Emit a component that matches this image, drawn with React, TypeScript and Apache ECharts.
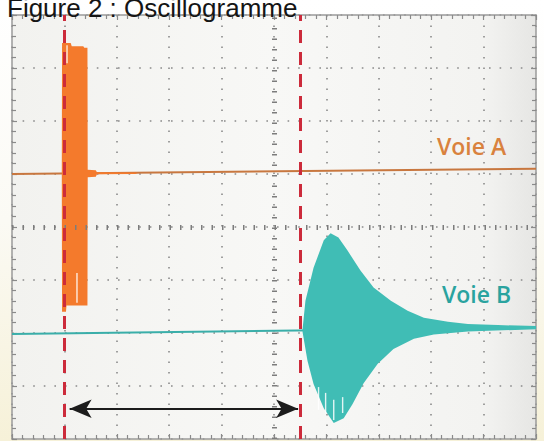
import React, { useEffect, useRef } from "react";
import * as echarts from "echarts";

// Screen: 10 horizontal divisions, 8 vertical divisions
const xRange = [0, 10];
const yRange = [-4, 4];

// Cursor (red dashed) positions, in divisions
const cursorTimes = [1.0, 5.5];
// Double arrow between the two cursors
const arrowStart = [1.1, -3.43];
const arrowEnd = [5.46, -3.43];

// Channel baselines (slightly tilted in the photo)
const baselineA = [[0, 1.0], [10, 1.1]];
const baselineB = [[0, -2.02], [10, -1.9]];

// Voie A burst envelope (emitter)
const burstAUpper = [
  [0.95, 1.0], [0.955, 3.47], [1.12, 3.47], [1.14, 3.41], [1.36, 3.41],
  [1.38, 3.38], [1.44, 3.38], [1.445, 1.08], [1.6, 1.07], [1.62, 1.035],
  [2.35, 1.03], [2.4, 1.02],
];
const burstALower = [
  [0.95, 1.0], [0.955, -1.6], [1.03, -1.6], [1.04, -1.48], [1.44, -1.48],
  [1.445, 0.94], [1.6, 0.95], [1.62, 0.995], [2.35, 1.0], [2.4, 1.02],
];
// light streaks visible inside the Voie A burst: [x, yFrom, yTo]
const streaksA = [
  [1.05, 3.43, 3.09],
  [1.24, -0.87, -1.43],
];

// Voie B burst envelope (receiver)
const burstBUpper = [
  [5.545, -1.93], [5.6, -1.39], [5.755, -0.77], [5.95, -0.25], [6.08, -0.12],
  [6.23, -0.2], [6.4, -0.44], [6.65, -0.82], [6.9, -1.14], [7.23, -1.39],
  [7.55, -1.58], [7.86, -1.71], [8.32, -1.79], [8.7, -1.83], [9.27, -1.85],
  [10, -1.87],
];
const burstBLower = [
  [5.545, -1.98], [5.64, -2.53], [5.755, -2.96], [5.95, -3.42], [6.14, -3.7],
  [6.33, -3.61], [6.5, -3.34], [6.71, -2.95], [6.98, -2.58], [7.28, -2.3],
  [7.67, -2.11], [8.05, -2.03], [8.7, -1.97], [10, -1.93],
];
// light streaks visible inside the Voie B burst: [x, yFrom, yTo]
const streaksB = [
  [5.85, -3.02, -3.45],
  [5.985, -3.13, -3.51],
  [6.14, -3.26, -3.64],
  [6.31, -3.21, -3.51],
];

const titleText = "Figure 2 : Oscillogramme";
const labelA = "Voie A";
const labelB = "Voie B";

function envelopeSeries(upper: number[][], lower: number[][], color: string, z: number) {
  return {
    type: "custom",
    coordinateSystem: "cartesian2d",
    silent: true,
    z,
    data: [upper[0]],
    renderItem: (_params: any, api: any) => {
      const pts = upper
        .map((p) => api.coord(p))
        .concat(lower.slice().reverse().map((p) => api.coord(p)));
      return {
        type: "polygon",
        shape: { points: pts },
        style: { fill: color },
      };
    },
  };
}

function streakSeries(streaks: number[][], z: number) {
  return {
    type: "custom",
    coordinateSystem: "cartesian2d",
    silent: true,
    z,
    data: streaks,
    renderItem: (params: any, api: any) => {
      const s = streaks[params.dataIndex];
      const a = api.coord([s[0], s[1]]);
      const b = api.coord([s[0], s[2]]);
      return {
        type: "line",
        shape: { x1: a[0], y1: a[1], x2: b[0], y2: b[1] },
        style: { stroke: "rgba(255,255,255,0.85)", lineWidth: 1.4 },
      };
    },
  };
}

const borderAxis = (position: string, withSplit: boolean) => ({
  type: "value",
  position,
  min: xRange[0],
  max: xRange[1],
  interval: 1,
  axisLine: { show: true, onZero: false, lineStyle: { color: "#9a9a9a", width: 1.5 } },
  axisTick: { show: true, inside: true, length: 5, lineStyle: { color: "#8a8a8a", width: 1.2 } },
  minorTick: { show: true, splitNumber: 5, length: 4, lineStyle: { color: "#8a8a8a", width: 1.2 } },
  axisLabel: { show: false },
  splitLine: withSplit
    ? { show: true, lineStyle: { color: "#8a8a8a", width: 1.6, type: [1.6, 8.9] } }
    : { show: false },
});

const borderYAxis = (position: string, withSplit: boolean) => ({
  type: "value",
  position,
  min: yRange[0],
  max: yRange[1],
  interval: 1,
  axisLine: { show: true, onZero: false, lineStyle: { color: "#9a9a9a", width: 1.5 } },
  axisTick: { show: true, inside: true, length: 5, lineStyle: { color: "#8a8a8a", width: 1.2 } },
  minorTick: { show: true, splitNumber: 5, length: 4, lineStyle: { color: "#8a8a8a", width: 1.2 } },
  axisLabel: { show: false },
  splitLine: withSplit
    ? { show: true, lineStyle: { color: "#8a8a8a", width: 1.6, type: [1.6, 9] } }
    : { show: false },
});

export default function App() {
  const ref = useRef<HTMLDivElement>(null);
  useEffect(() => {
    document.body.style.margin = "0";
    if (!ref.current) return;
    const chart = echarts.init(ref.current, null, { renderer: "svg" });
    chart.setOption({
      animation: false,
      backgroundColor: new echarts.graphic.LinearGradient(0, 0, 0, 1, [
        { offset: 0, color: "#ffffff" },
        { offset: 0.5, color: "#fbfaf4" },
        { offset: 1, color: "#f6f1d8" },
      ]),
      title: {
        text: titleText,
        left: 2,
        top: -10,
        textStyle: {
          fontFamily: "Liberation Sans, Arial, sans-serif",
          fontSize: 26,
          fontWeight: "normal",
          color: "#151515",
        },
      },
      grid: {
        left: 12,
        right: 8,
        top: 15,
        bottom: 2,
        show: true,
        borderWidth: 0,
        backgroundColor: new echarts.graphic.LinearGradient(0, 0, 1, 0, [
          { offset: 0, color: "#f2f2ef" },
          { offset: 0.5, color: "#f8f8f6" },
          { offset: 0.9, color: "#f3f3f1" },
          { offset: 1, color: "#e6e6e4" },
        ]),
      },
      xAxis: [borderAxis("bottom", true), borderAxis("top", false)],
      yAxis: [borderYAxis("left", true), borderYAxis("right", false)],
      graphic: [
        {
          type: "text",
          left: 437,
          top: 134,
          z: 10,
          style: {
            text: labelA,
            fill: "#d9823e",
            font: "600 23px 'Open Sans', sans-serif",
          },
        },
        {
          type: "text",
          left: 442,
          top: 282,
          z: 10,
          style: {
            text: labelB,
            fill: "#2aa39f",
            font: "600 23px 'Open Sans', sans-serif",
          },
        },
      ],
      series: [
        {
          type: "line",
          silent: true,
          z: 2,
          data: [],
          markLine: {
            silent: true,
            symbol: "none",
            label: { show: false },
            lineStyle: { color: "#7c7c7c", width: 5, type: [1.5, 9] },
            data: [
              [{ coord: [xRange[0], 0] }, { coord: [xRange[1], 0] }],
              [{ coord: [5, yRange[0]] }, { coord: [5, yRange[1]] }],
            ],
          },
        },
        {
          type: "line",
          silent: true,
          z: 3,
          symbol: "none",
          data: baselineA,
          lineStyle: { color: "#c8773f", width: 2 },
        },
        {
          type: "line",
          silent: true,
          z: 3,
          symbol: "none",
          data: baselineB,
          lineStyle: { color: "#3aaea9", width: 2 },
        },
        envelopeSeries(burstAUpper, burstALower, "#f47a2c", 4),
        envelopeSeries(burstBUpper, burstBLower, "#40bdb5", 4),
        streakSeries(streaksA, 5),
        streakSeries(streaksB, 5),
        {
          type: "line",
          silent: true,
          z: 6,
          data: [],
          markLine: {
            silent: true,
            symbol: "none",
            label: { show: false },
            lineStyle: { color: "#cc2b3b", width: 3, type: [13, 9] },
            data: cursorTimes.map((t) => [
              { coord: [t, yRange[0]] },
              { coord: [t, yRange[1]] },
            ]),
          },
        },
        {
          type: "line",
          silent: true,
          z: 7,
          data: [],
          markLine: {
            silent: true,
            symbol: ["arrow", "arrow"],
            symbolSize: [14, 22],
            label: { show: false },
            lineStyle: { color: "#1c1c1c", width: 2, type: "solid" },
            data: [[{ coord: arrowStart }, { coord: arrowEnd }]],
          },
        },
      ],
    });
    return () => chart.dispose();
  }, []);
  return <div ref={ref} style={{ width: 544, height: 441 }} />;
}
